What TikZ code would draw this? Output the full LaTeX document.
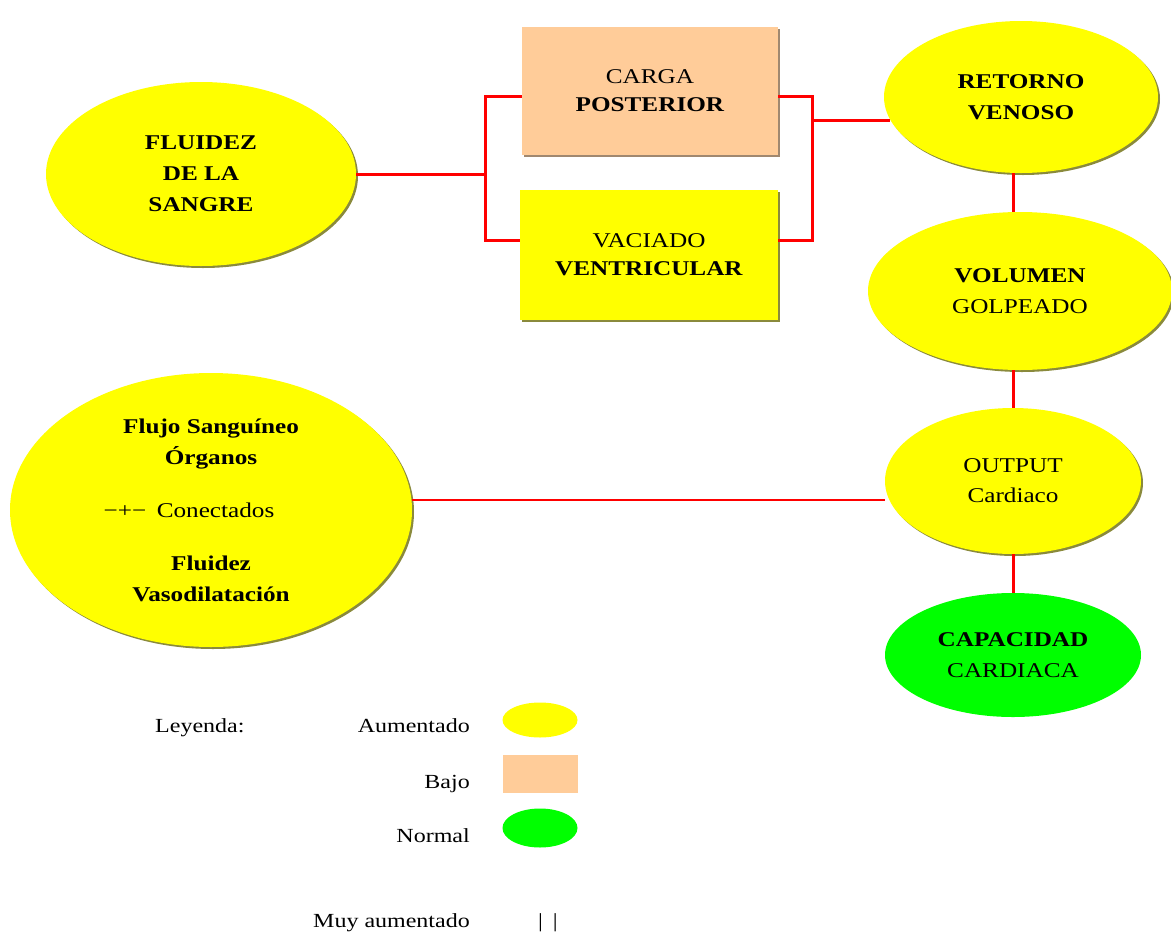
\documentclass[tikz,border=0pt]{standalone}
\usepackage{fontspec}
\setmainfont{Liberation Serif}[FakeStretch=1.2]
\usetikzlibrary{shapes.geometric,shadows}
\definecolor{amar}{HTML}{FFFF00}
\definecolor{durazno}{HTML}{FFCC99}
\definecolor{verde}{HTML}{00FF00}
\definecolor{rojo}{HTML}{FF0000}
\definecolor{sombra}{HTML}{8A8A3C}
\definecolor{sombrab}{HTML}{A08870}
\tikzset{
  elip/.style={ellipse, fill=amar, inner sep=0pt, align=center, font=\fontsize{21}{31}\selectfont\bfseries},
  caja/.style={rectangle, fill=amar, inner sep=0pt, align=center, font=\fontsize{21}{28}\selectfont},
  link/.style={draw=rojo, line width=3pt},
  linkf/.style={draw=rojo, line width=1.5pt},
  lab/.style={font=\fontsize{20}{22}\selectfont, inner sep=0pt},
  sw/.style={drop shadow={shadow xshift=2pt, shadow yshift=-2pt, fill=sombra, opacity=1}},
  swb/.style={drop shadow={shadow xshift=2pt, shadow yshift=-2pt, fill=sombrab, opacity=1}},
}
\begin{document}
\begin{tikzpicture}[x=1pt, y=-1pt]
  \useasboundingbox (0,0) rectangle (1171,935);

  \node[elip, sw, minimum width=310, minimum height=184] (fluidez) at (201,174) {FLUIDEZ\\DE LA\\SANGRE};
  \node[caja, swb, fill=durazno, minimum width=256, minimum height=128] (carga) at (650,91) {CARGA\\\textbf{POSTERIOR}};
  \node[caja, sw, minimum width=258, minimum height=130] (vaciado) at (649,255) {VACIADO\\\textbf{VENTRICULAR}};
  \node[elip, sw, minimum width=274, minimum height=152] (retorno) at (1021,97) {RETORNO\\VENOSO};
  \node[elip, sw, minimum width=304, minimum height=158] (volumen) at (1020,291) {VOLUMEN\\\mdseries GOLPEADO};
  \node[elip, sw, minimum width=256, minimum height=146, font=\fontsize{21}{30}\selectfont] (output) at (1013,481) {OUTPUT\\Cardiaco};
  \node[elip, fill=verde, minimum width=256, minimum height=124] (capacidad) at (1013,655) {CAPACIDAD\\\mdseries CARDIACA};
  \node[elip, sw, minimum width=402, minimum height=274] (flujo) at (211,510)
    {Flujo Sanguíneo\\Órganos\\[22pt]{\mdseries\hspace*{-44pt}−+−\enspace Conectados}\\[22pt]Fluidez\\Vasodilatación};

  \coordinate (jlt) at (485,96);
  \coordinate (jlb) at (485,240);
  \coordinate (jrt) at (812,96);
  \coordinate (jrb) at (812,240);
  \coordinate (fy) at (0,500);

  \draw[link] (fluidez.east) -- (fluidez.east -| jlt);
  \draw[link] (carga.west |- jlt) -- (jlt) -- (jlb) -- (vaciado.west |- jlb);
  \draw[link] (carga.east |- jrt) -- (jrt) -- (jrb) -- (vaciado.east |- jrb);
  \draw[link] (jrt |- retorno.190) -- (retorno.190);
  \draw[link] (retorno.south -| output) -- (volumen.north -| output);
  \draw[link] (volumen.south -| output) -- (output.north);
  \draw[link] (output.south) -- (capacidad.north);
  \draw[linkf] (flujo.east |- fy) -- (output.west |- fy);

  % leyenda
  \node[lab, anchor=base west] (leyenda) at (155,732) {Leyenda:};
  \node[lab, anchor=base east] (aum) at (470,732) {Aumentado};
  \node[lab, anchor=base east] (bajo) at (470,788) {Bajo};
  \node[lab, anchor=base east] (normal) at (470,842) {Normal};
  \node[lab, anchor=base east] (muy) at (470,927) {Muy aumentado};
  \node[ellipse, fill=amar, minimum width=75, minimum height=35] (kaum) at (540,720) {};
  \node[rectangle, fill=durazno, minimum width=75, minimum height=38] (kbajo) at (540,774) {};
  \node[ellipse, fill=verde, minimum width=75, minimum height=39] (knormal) at (540,828) {};
  \node[lab, anchor=base] (kmuy) at (548,927) {|\hspace{10pt}|};
\end{tikzpicture}
\end{document}
